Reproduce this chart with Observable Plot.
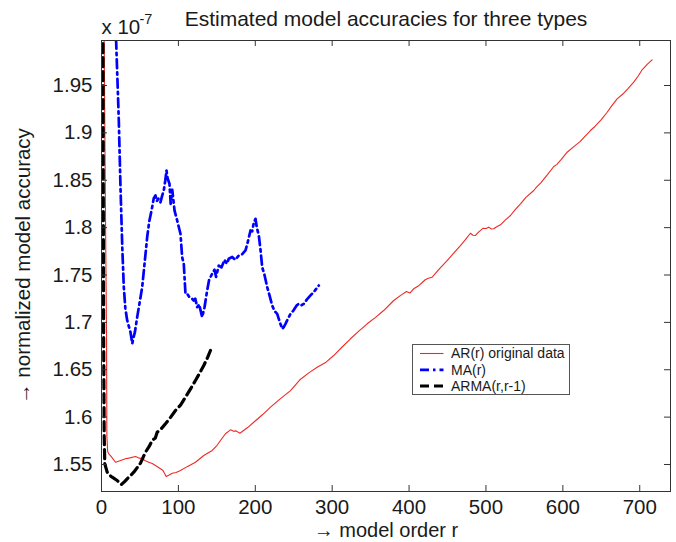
<!DOCTYPE html>
<html><head><meta charset="utf-8">
<script src="https://cdn.jsdelivr.net/npm/d3@7"></script>
<script src="https://cdn.jsdelivr.net/npm/@observablehq/plot@0.6"></script>
<style>
body{margin:0;background:#fff}
#chart svg{display:block}
</style>
</head><body><div id="chart"></div>
<script>
// ---- data (normalized model accuracy, in units of 1e-7) ----
const arOrder = [1,3,5,6.5,7,8,9.5,13,18.2,24,31.2,37,44.2,48,52.9,57,61.5,66,70.2,76.7,80,84.1,88,91.9,97,102.7,112,122.2,133,144,150,161.2,167.8,172,175,180,190,198,210,219.8,232,245.8,258,270,280.5,292,302,313,323.8,335,345.5,356,367,380,390,396.6,401,406,413,421,425,430,440,449.5,458,466.8,473,479.8,483,486.3,490,496.3,500,503.6,507,510,514,518.9,525,531.9,538,544.9,552,562.2,566,571,580,588.2,592,598,605.6,615,622,635.9,642,650,657.6,664,670.6,678,685,692.2,698,703.1,710,716.1];
const arValue = [2.6,2.05,1.83,1.69,1.58,1.5637,1.5613,1.558,1.5524,1.554,1.556,1.557,1.5584,1.557,1.556,1.554,1.5524,1.551,1.5489,1.5455,1.5437,1.5373,1.539,1.5408,1.5415,1.5437,1.548,1.5524,1.5595,1.5648,1.570,1.5824,1.5866,1.585,1.5855,1.583,1.589,1.5946,1.603,1.6105,1.619,1.628,1.6394,1.647,1.6527,1.658,1.665,1.674,1.6827,1.691,1.6985,1.705,1.7125,1.7231,1.729,1.7326,1.731,1.7354,1.739,1.745,1.7465,1.7477,1.757,1.7653,1.773,1.7811,1.787,1.7941,1.792,1.7917,1.795,1.7994,1.799,1.8005,1.7985,1.7988,1.801,1.803,1.808,1.8128,1.819,1.8251,1.832,1.8392,1.843,1.8469,1.856,1.8645,1.8665,1.872,1.8796,1.886,1.8905,1.9025,1.907,1.914,1.9218,1.929,1.9359,1.941,1.947,1.9535,1.960,1.9666,1.9725,1.977];

const maOrder = [18,19,21,22.5,24.7,27,29,31,33.4,37.7,40,41.2,43.5,46.4,49,52.9,56,59.4,62,65.9,68,70.2,72,74,76.7,79,81,83,84.5,86,88.4,90,92,95,98.4,102.7,104.9,107,109.2,111.4,114,117.9,120,122,124.4,127,130.9,134,137.4,140,143.9,147,149,152.5,156,160,163,165.5,170,174,178.5,183,187.3,190,193.8,196,198,200.3,202,204.6,207,209,212,215.5,218,222,225,228.5,232,235,237,239.3,242,245.8,250,254,256.6,260,263.1,267,271.8,277,282.6];
const maValue = [2.06,1.9975,1.95,1.913,1.8427,1.78,1.7371,1.715,1.702,1.6896,1.6774,1.6827,1.69,1.7055,1.718,1.7371,1.762,1.7899,1.806,1.8216,1.831,1.8339,1.828,1.8305,1.8268,1.834,1.8392,1.850,1.8603,1.852,1.8463,1.825,1.84,1.818,1.8075,1.7935,1.7688,1.7618,1.7302,1.7302,1.727,1.7249,1.7231,1.725,1.716,1.719,1.7055,1.716,1.7336,1.745,1.7513,1.7555,1.748,1.76,1.758,1.766,1.762,1.7671,1.769,1.766,1.7706,1.772,1.7759,1.784,1.797,1.796,1.805,1.8093,1.800,1.7917,1.775,1.7582,1.750,1.7371,1.730,1.7178,1.712,1.709,1.700,1.6932,1.695,1.6985,1.703,1.709,1.713,1.718,1.7196,1.718,1.7196,1.724,1.7284,1.733,1.7389];

const armaOrder = [1,2,2.7,3.5,4.3,7.4,10,13.9,20.4,23,26,30,33.4,42,50.7,57.2,62,65.9,70,72.4,78,83.2,90,96.2,103,109.2,116,122.2,128,133,138,141.7];
const armaValue = [2.6,1.95,1.7,1.58,1.5507,1.5419,1.539,1.5366,1.5331,1.531,1.5289,1.532,1.5349,1.5419,1.5514,1.563,1.569,1.5753,1.578,1.584,1.588,1.593,1.600,1.607,1.613,1.621,1.630,1.6387,1.647,1.6545,1.663,1.6703];

const xTicks = [0,100,200,300,400,500,600,700];
const yTicks = [1.55,1.6,1.65,1.7,1.75,1.8,1.85,1.9,1.95];
const seriesNames = ["AR(r) original data","MA(r)","ARMA(r,r-1)"];
const titleText = "Estimated model accuracies for three types";
const xLabelText = "\u2192 model order ";
const xLabelVar = "r";
const yLabelText = "\u2192 normalized model accuracy";

// ---- rows built from the arrays ----
const ar = arOrder.map((r,i)=>({r, v: arValue[i]}));
const ma = maOrder.map((r,i)=>({r, v: maValue[i]}));
const arma = armaOrder.map((r,i)=>({r, v: armaValue[i]}));

const W = 676, H = 542, mL = 101, mR = 6, mT = 40, mB = 51;
const plotW = W - mL - mR, plotH = H - mT - mB, tk = 6;
const FONT = "'Liberation Sans', Arial, Helvetica, sans-serif";
const ink = "#1a1a1a", axisInk = "#333";

const styles = {
  ar: {stroke: "#ee2a24", strokeWidth: 1.1},
  ma: {stroke: "#0000ff", strokeWidth: 2.7, strokeDasharray: "9,4,2.5,4"},
  arma: {stroke: "#000", strokeWidth: 3.2, strokeDasharray: "9,5"}
};

const chart = Plot.plot({
  width: W, height: H,
  marginLeft: mL, marginRight: mR, marginTop: mT, marginBottom: mB,
  style: {fontFamily: FONT, fontSize: "20.5px", color: ink, background: "#fff"},
  x: {domain: [0, 740], ticks: xTicks},
  y: {domain: [1.5215, 1.9975], ticks: yTicks},
  marks: [
    Plot.line(ar, {x: "r", y: "v", ...styles.ar, clip: true}),
    Plot.line(ma, {x: "r", y: "v", ...styles.ma, clip: true}),
    Plot.line(arma, {x: "r", y: "v", ...styles.arma, clip: true}),
    Plot.frame({stroke: axisInk, strokeWidth: 1}),
    // inward ticks on all four sides (MATLAB box style)
    Plot.tickX(xTicks, {x: d => d, stroke: axisInk, insetTop: plotH - tk}),
    Plot.tickX(xTicks, {x: d => d, stroke: axisInk, insetBottom: plotH - tk}),
    Plot.tickY(yTicks, {y: d => d, stroke: axisInk, insetRight: plotW - tk}),
    Plot.tickY(yTicks, {y: d => d, stroke: axisInk, insetLeft: plotW - tk}),
    Plot.axisX({ticks: xTicks, tickSize: 0, tickPadding: 8, label: null, tickFormat: d => String(d), fill: ink}),
    Plot.axisY({ticks: yTicks, tickSize: 0, tickPadding: 9, label: null, tickFormat: d => String(d), fill: ink}),
    Plot.text([titleText], {frameAnchor: "top", dy: -15, lineAnchor: "bottom", fontSize: 21, fill: ink}),
    Plot.text(["x 10"], {frameAnchor: "top-left", textAnchor: "start", lineAnchor: "bottom", dy: -7, fontSize: 20.5, fill: ink}),
    Plot.text(["-7"], {frameAnchor: "top-left", textAnchor: "start", lineAnchor: "bottom", dx: 38, dy: -17, fontSize: 14.5, fill: ink}),
    Plot.text([xLabelText + xLabelVar], {frameAnchor: "bottom", textAnchor: "middle", dy: 45, lineAnchor: "bottom", fontSize: 20, fill: ink, ariaLabel: "xlabel"}),
    Plot.text([yLabelText], {frameAnchor: "left", textAnchor: "middle", dx: -72, rotate: -90, lineAnchor: "bottom", fontSize: 20.5, fill: ink})
  ]
});

document.getElementById("chart").appendChild(chart);

// italic "r" in x label
const xl = d3.select(chart).select("g[aria-label='xlabel'] text");
if (!xl.empty()) {
  xl.text("");
  xl.append("tspan").text(xLabelText);
  xl.append("tspan").attr("font-style", "italic").text(xLabelVar);
}

// legend box (MATLAB style)
const svg = d3.select(chart);
const lg = svg.append("g").attr("font-family", FONT).attr("font-size", 14).attr("text-anchor", "start");
const lx = 412.5, ly = 344.5, lw = 157, lh = 50;
lg.append("rect").attr("x", lx).attr("y", ly).attr("width", lw).attr("height", lh)
  .attr("fill", "#fff").attr("stroke", "#555").attr("stroke-width", 1);
const keys = ["ar", "ma", "arma"];
seriesNames.forEach((name, i) => {
  const y = ly + 9 + i * 16.3;
  const s = styles[keys[i]];
  lg.append("line").attr("x1", lx + 7.5).attr("x2", lx + 31).attr("y1", y).attr("y2", y)
    .attr("stroke", s.stroke).attr("stroke-width", Math.min(s.strokeWidth, 3))
    .attr("stroke-dasharray", s.strokeDasharray || null);
  lg.append("text").attr("x", lx + 38.5).attr("y", y).attr("dy", "0.35em")
    .attr("text-anchor", "start").attr("fill", ink).text(name);
});
</script>
</body></html>
